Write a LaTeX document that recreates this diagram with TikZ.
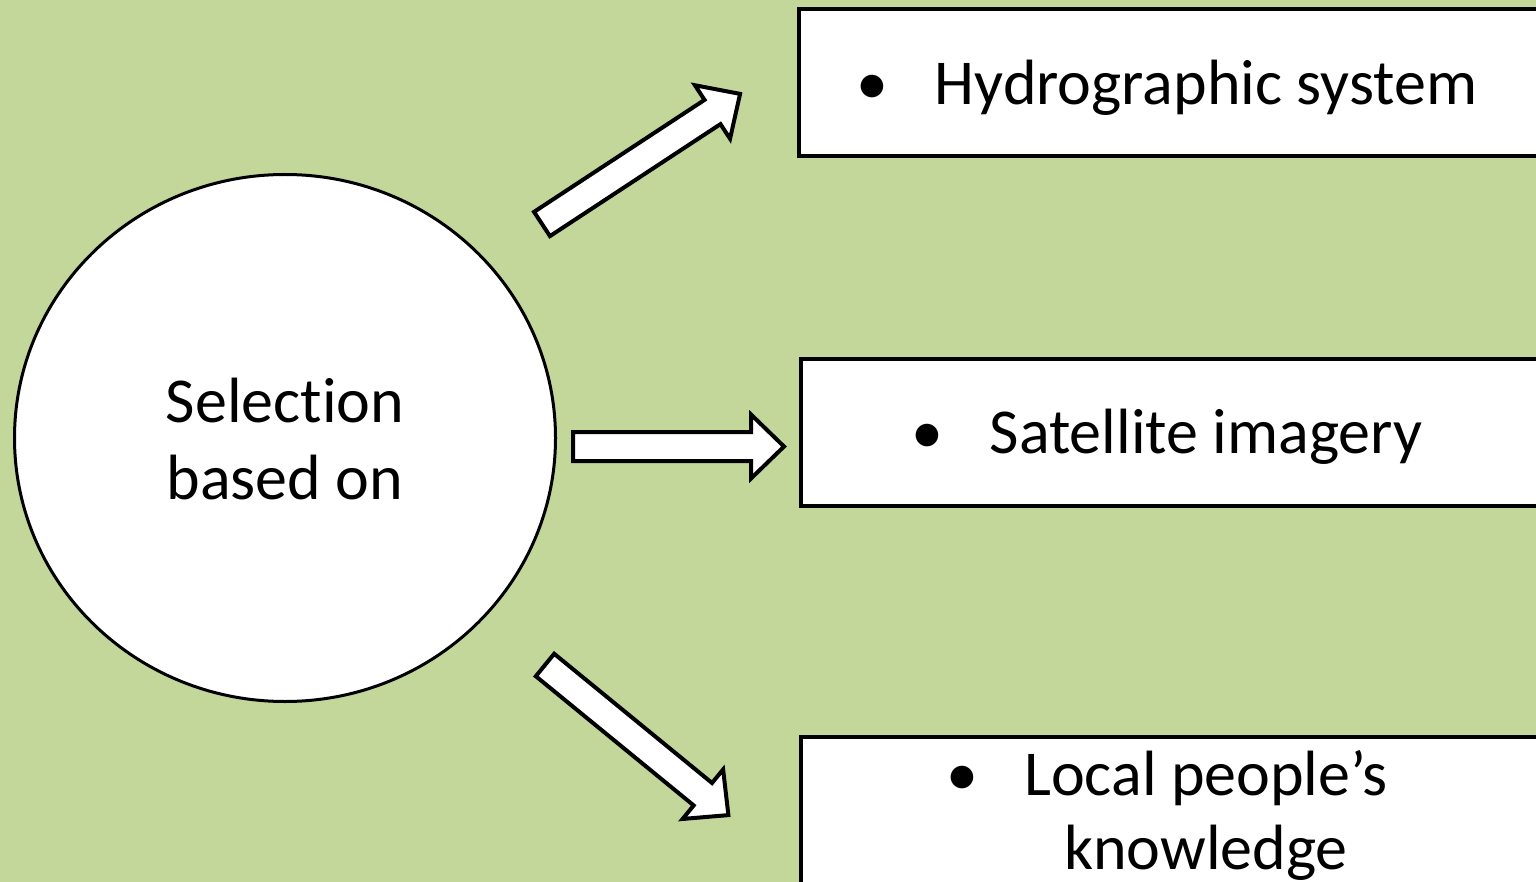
\documentclass[tikz,border=0pt]{standalone}
\usepackage{fontspec}
\setmainfont[Ligatures=NoCommon]{Carlito}
\usetikzlibrary{shapes.geometric}
\definecolor{bggreen}{HTML}{C4D79B}
\newcommand\blkarrow[4]{% x, y, angle, length
  \draw[blk, shift={(#1,#2)}, rotate=#3] (0,-14.5) -- (#4-33,-14.5) -- (#4-33,-32) -- (#4,0) -- (#4-33,32) -- (#4-33,14.5) -- (0,14.5) -- cycle;}
\begin{document}
\begin{tikzpicture}[x=1pt,y=-1pt,
  box/.style={draw=black, fill=white, line width=4pt, rectangle, anchor=north west, minimum width=800pt},
  blk/.style={draw=black, fill=white, line width=4pt, line join=miter},
  txt/.style={inner sep=0pt, font=\fontsize{64}{75}\selectfont, text=black}]
\useasboundingbox (0,0) rectangle (1536,882);
\clip (0,0) rectangle (1536,882);
\fill[bggreen] (0,0) rectangle (1536,882);
% circle
\node[draw=black, fill=white, line width=3pt, ellipse, minimum width=541pt, minimum height=527pt, inner sep=0pt] (sel) at (285,438) {};
\node[txt, anchor=base] (s1) at (285,422) {Selection};
\node[txt, anchor=base] (s2) at (285,499) {based on};
% boxes
\node[box, minimum height=147pt] (b1) at (796.5,7.5) {};
\node[box, minimum height=147pt] (b2) at (798.5,357) {};
\node[box, minimum height=200pt] (b3) at (798.5,735) {};
% texts
\node[txt, anchor=base] (t1) at (1206,105) {Hydrographic system};
\node[txt, anchor=base] (d1) at ([xshift=-62pt]t1.base west) {•};
\node[txt, anchor=base] (t2) at (1206,453) {Satellite imagery};
\node[txt, anchor=base] (d2) at ([xshift=-62pt]t2.base west) {•};
\node[txt, anchor=base] (t3) at (1206,795) {Local people’s};
\node[txt, anchor=base] (d3) at ([xshift=-62pt]t3.base west) {•};
\node[txt, anchor=base] (t4) at (1206,869) {knowledge};
% arrows
\blkarrow{542}{224}{33.3}{237}
\blkarrow{573}{446.5}{0}{211}
\blkarrow{545}{665}{-39.3}{237}
\end{tikzpicture}
\end{document}
